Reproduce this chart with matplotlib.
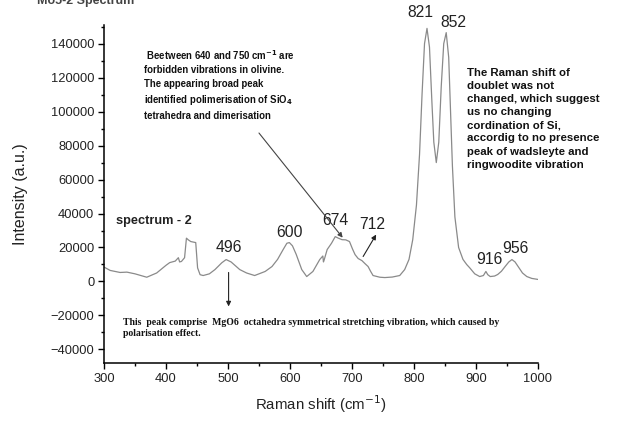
import matplotlib
matplotlib.use("Agg")
import matplotlib.pyplot as plt
from matplotlib.ticker import MultipleLocator

#-------------------------------
# DATA
#-------------------------------
shift = [300, 310, 326, 337, 350, 369, 385, 400, 406, 415, 420, 422, 425, 430,
         433, 436, 440, 444, 448, 451, 455, 460, 470, 479, 490, 497, 505, 519,
         530, 543, 560, 571, 580, 589, 595, 599, 604, 610, 619, 627, 637, 648,
         653, 654, 655, 660, 667, 673, 678, 684, 690, 696, 701, 705, 710, 716,
         721, 726, 730, 734, 745, 753, 765, 777, 785, 792, 798, 804, 809, 813,
         817, 821, 825, 829, 832, 836, 840, 844, 848, 852, 856, 859, 862, 866,
         872, 879, 885, 890, 898, 906, 912, 916, 919, 923, 930, 935, 941, 947,
         953, 958, 963, 968, 975, 982, 990, 1000]
intensity = [8500, 6500, 5300, 5500, 4500, 2500, 5000, 9500, 11100, 12000, 14000,
             11500, 11800, 14000, 25500, 24500, 23500, 23200, 22900, 8000, 4000,
             3500, 4500, 7000, 11000, 12900, 11500, 7000, 5000, 3500, 5900, 8800,
             13000, 18800, 22500, 22900, 21000, 16000, 7000, 2900, 5900, 12900,
             15000, 11500, 12500, 18800, 22500, 26400, 25500, 24600, 24500, 23500,
             19000, 15800, 13500, 12300, 10500, 8800, 6000, 3500, 2500, 2300, 2600,
             3500, 7000, 13000, 24600, 45000, 75000, 110000, 140000, 149000,
             138000, 105000, 82000, 70000, 82000, 115000, 140000, 146500, 132000,
             100000, 68000, 38000, 20000, 13000, 10000, 8000, 4500, 2900, 3500,
             5900, 4000, 2900, 3200, 4100, 6000, 8800, 11500, 12900, 11500, 8800,
             5000, 2900, 1800, 1200]

peak_labels = ["496", "600", "674", "712", "821", "852", "916", "956"]
peak_label_x = [501, 600, 673, 732, 810, 863, 921, 964]
peak_label_y = [20000, 28700, 35800, 33400, 158500, 152500, 12900, 19400]

#-------------------------------
# FIGURE
#-------------------------------
plt.rcParams['font.family'] = ['Liberation Sans', 'DejaVu Sans']

fig = plt.figure(figsize=(6.2, 4.22), dpi=100)
ax = fig.add_axes([0.1677, 0.1398, 0.70, 0.801])

ax.plot(shift, intensity, color="#8a8a8a", lw=0.9)

ax.set_xlim(300, 1000)
ax.set_ylim(-48000, 151000)
ax.set_xticks(range(300, 1001, 100))
ax.set_yticks(range(-40000, 140001, 20000))
ax.xaxis.set_minor_locator(MultipleLocator(50))
ax.yaxis.set_minor_locator(MultipleLocator(10000))
ax.tick_params(which='major', direction='out', length=4, width=1,
               labelsize=9.3, labelcolor="#222222", pad=3)
ax.tick_params(which='minor', direction='out', length=2.5, width=1)
for s in ['top', 'right']:
    ax.spines[s].set_visible(False)
for s in ['left', 'bottom']:
    ax.spines[s].set_linewidth(1.1)

ax.set_xlabel("Raman shift (cm$^{-1}$)", fontsize=10.8, color="#222222", labelpad=6)
ax.set_ylabel("Intensity (a.u.)", fontsize=11.5, color="#222222", labelpad=16)

# peak numbers
for lab, px, py in zip(peak_labels, peak_label_x, peak_label_y):
    ax.text(px, py, lab, ha='center', va='center', fontsize=11.3,
            color="#222222", clip_on=False)

ax.text(319, 35800, "spectrum - 2", fontsize=9.2, fontweight='bold',
        va='center', color="#222222")

# note about the forbidden region
ax.text(364, 137500,
        " Beetween 640 and 750 cm$^{\\mathbf{-1}}$ are\n"
        "forbidden vibrations in olivine.\n"
        "The appearing broad peak\n"
        "identified polimerisation of SiO$_{\\mathbf{4}}$\n"
        "tetrahedra and dimerisation",
        fontsize=6.9, fontweight='bold', va='top', color="#111111",
        linespacing=1.45)
ax.annotate("", xy=(685, 25800), xytext=(550, 87400),
            arrowprops=dict(arrowstyle="-|>", color="#444444", lw=0.8,
                            mutation_scale=7, shrinkA=0, shrinkB=0))

# note about the doublet
ax.text(885, 125500,
        "The Raman shift of\n"
        "doublet was not\n"
        "changed, which suggest\n"
        "us no changing\n"
        "cordination of Si,\n"
        "accordig to no presence\n"
        "peak of wadsleyte and\n"
        "ringwoodite vibration",
        fontsize=8.2, fontweight='bold', va='top', color="#111111",
        linespacing=1.38, clip_on=False)

# 712 arrow
ax.annotate("", xy=(739, 27600), xytext=(718, 14700),
            arrowprops=dict(arrowstyle="-|>", color="#222222", lw=0.8,
                            mutation_scale=7, shrinkA=0, shrinkB=0))

# 496 arrow and the note below it
ax.annotate("", xy=(501, -14700), xytext=(501, 5300),
            arrowprops=dict(arrowstyle="-|>", color="#222222", lw=0.8,
                            mutation_scale=7, shrinkA=0, shrinkB=0))
ax.text(330, -21500,
        "This  peak comprise  MgO6  octahedra symmetrical stretching vibration, which caused by\n"
        "polarisation effect.",
        family=['Liberation Serif', 'DejaVu Serif'], fontsize=7, fontweight='bold',
        va='top', color="#111111", linespacing=1.3)

# title, cut off at the top edge as in the source image
fig.text(0.06, 0.998, "Mo5-2 Spectrum", fontsize=9, fontweight='bold',
         color="#444444", va='center')

fig.savefig("out.png", dpi=100)
